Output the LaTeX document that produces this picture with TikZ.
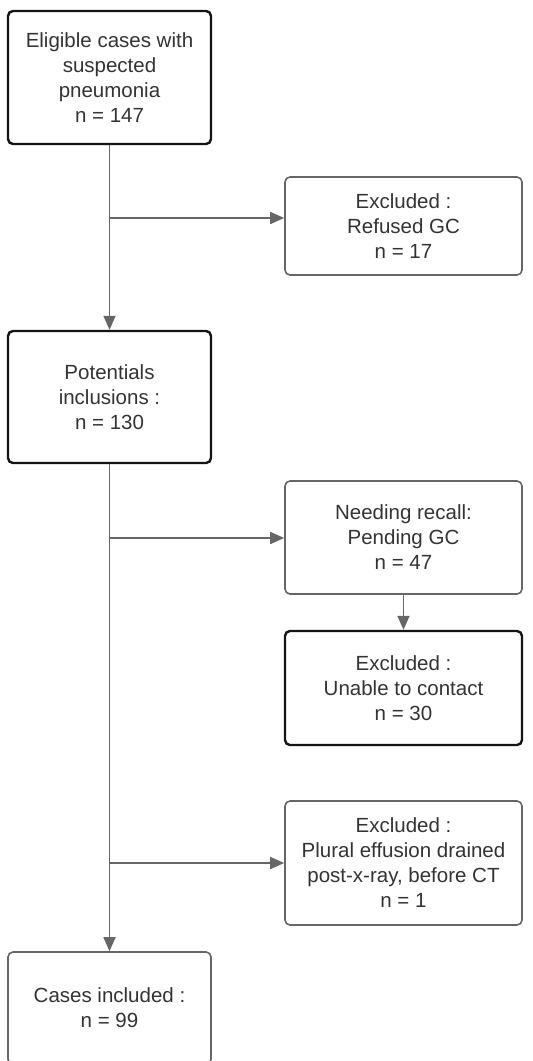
\documentclass[tikz,border=0pt]{standalone}
\usepackage{fontspec}
\setmainfont{Liberation Sans}
\usepackage{xcolor}
\usetikzlibrary{arrows.meta, positioning}
\definecolor{FlowGray}{RGB}{102,102,102}
\definecolor{FlowText}{RGB}{51,51,51}

\begin{document}
\begin{tikzpicture}[
    x=1pt, y=-1pt,
    box/.style={rectangle, draw=FlowGray, line width=1.6pt, rounded corners=5pt, minimum width=237pt, inner sep=0pt, align=center, text=FlowText, font=\fontsize{20.5}{25}\selectfont},
    mainbox/.style={box, draw=black!92, line width=2.4pt, minimum width=203pt},
    arrow/.style={-{Triangle[length=14pt, width=12pt]}, line width=1.6pt, FlowGray}
]
    \useasboundingbox (0,0) rectangle (533,1061);
    % Left column: main flow
    \node[mainbox, minimum height=133pt] (elig) at (109.5, 77.5) {Eligible cases with\\suspected\\pneumonia\\n = 147};
    \node[mainbox, minimum height=132pt] (poten) at (109.5, 397) {Potentials\\inclusions :\\n = 130};
    \node[box, minimum width=203pt, minimum height=112pt] (incl) at (109.5, 1008) {Cases included :\\n = 99};
    % Right column: exclusions
    \node[box, minimum height=98pt] (refused) at (403.5, 226) {Excluded :\\Refused GC\\n = 17};
    \node[box, minimum height=113pt] (recall) at (403.5, 537.5) {Needing recall:\\Pending GC\\n = 47};
    \node[mainbox, minimum width=237pt, minimum height=114pt] (contact) at (403.5, 688) {Excluded :\\Unable to contact\\n = 30};
    \node[box, minimum height=124pt] (drained) at (403.5, 863) {Excluded :\\Plural effusion drained\\post-x-ray, before CT\\n = 1};
    % split points on the trunk
    \coordinate (split1) at (109.5, 218);
    \coordinate (split2) at (109.5, 538);
    \coordinate (split3) at (109.5, 863);
    \draw[arrow] (elig) -- (poten);
    \draw[arrow] (poten) -- (incl);
    \draw[arrow] (recall) -- (contact);
    \foreach \s/\t in {split1/refused, split2/recall, split3/drained} { \draw[arrow] (\s) -- (\s -| \t.west); }
\end{tikzpicture}
\end{document}
